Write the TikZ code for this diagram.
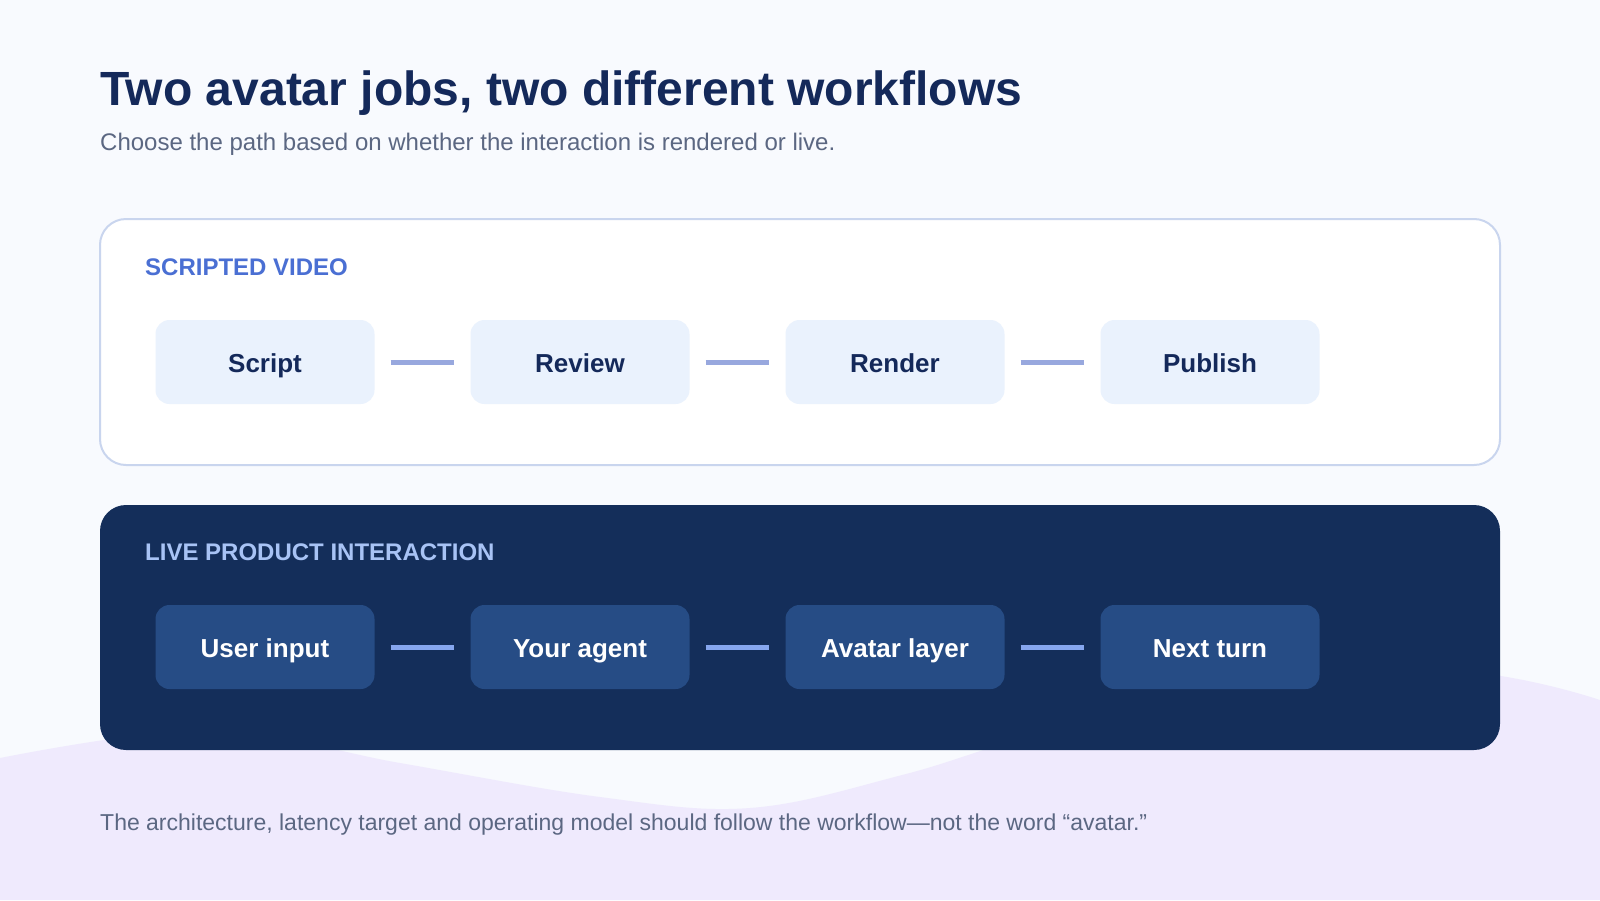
\documentclass[tikz,border=0pt]{standalone}
\usepackage{fontspec}
\setmainfont{Liberation Sans}

\definecolor{paper}{HTML}{F8FAFE}
\definecolor{wave}{HTML}{EFEAFD}
\definecolor{ink}{HTML}{14295A}
\definecolor{inkgray}{HTML}{5B6782}
\definecolor{rim}{HTML}{C9D5EE}
\definecolor{tagblue}{HTML}{4A6FD3}
\definecolor{taglite}{HTML}{A8C3F5}
\definecolor{boxlite}{HTML}{EAF2FD}
\definecolor{boxdeep}{HTML}{264C85}
\definecolor{panel}{HTML}{142E5A}
\definecolor{linelite}{HTML}{98A8DE}
\definecolor{linedeep}{HTML}{86A6EE}

\begin{document}
\begin{tikzpicture}[x=1pt,y=-1pt,
    txt/.style={anchor=base west, inner sep=0pt},
    lite/.style={rounded corners=14pt, fill=boxlite, text=ink,
        minimum width=219pt, minimum height=84pt, inner sep=0pt,
        text height=20pt, text depth=0pt,
        font=\fontsize{26}{30}\selectfont\bfseries},
    deep/.style={lite, fill=boxdeep, text=white},
    linkA/.style={draw=linelite, line width=5pt},
    linkB/.style={draw=linedeep, line width=5pt}]

    \useasboundingbox (0,0) rectangle (1600,900);
    \fill[paper] (0,0) rectangle (1600,900);
    \fill[wave] plot[smooth, tension=0.6] coordinates {(0,758) (210,730) (400,763) (600,797) (750,808) (906,774) (1100,718) (1420,670) (1600,700)}
        -- (1600,900) -- (0,900) -- cycle;

    \node[txt, text=ink, font=\fontsize{48}{56}\selectfont\bfseries] (title) at (100,105) {Two avatar jobs, two different workflows};
    \node[txt, text=inkgray, font=\fontsize{24}{28}\selectfont] (sub) at (100,150) {Choose the path based on whether the interaction is rendered or live.};

    % scripted video
    \draw[draw=rim, line width=2pt, fill=white, rounded corners=26pt] (100,219) rectangle (1500,465);
    \node[txt, text=tagblue, font=\fontsize{24}{28}\selectfont\bfseries] (tagS) at (145,275) {SCRIPTED VIDEO};
    \node[lite] (Sc) at (265,362) {Script};
    \node[lite] (Rv) at (580,362) {Review};
    \node[lite] (Rn) at (895,362) {Render};
    \node[lite] (Pb) at (1210,362) {Publish};
    \draw[linkA] ([xshift=16pt]Sc.east) -- ([xshift=-16pt]Rv.west);
    \draw[linkA] ([xshift=16pt]Rv.east) -- ([xshift=-16pt]Rn.west);
    \draw[linkA] ([xshift=16pt]Rn.east) -- ([xshift=-16pt]Pb.west);

    % live product interaction
    \fill[panel, rounded corners=26pt] (100,505) rectangle (1500,750);
    \node[txt, text=taglite, font=\fontsize{24}{28}\selectfont\bfseries] (tagL) at (145,560) {LIVE PRODUCT INTERACTION};
    \node[deep] (Ui) at (265,647) {User input};
    \node[deep] (Ag) at (580,647) {Your agent};
    \node[deep] (Al) at (895,647) {Avatar layer};
    \node[deep] (Nt) at (1210,647) {Next turn};
    \draw[linkB] ([xshift=16pt]Ui.east) -- ([xshift=-16pt]Ag.west);
    \draw[linkB] ([xshift=16pt]Ag.east) -- ([xshift=-16pt]Al.west);
    \draw[linkB] ([xshift=16pt]Al.east) -- ([xshift=-16pt]Nt.west);

    \node[txt, text=inkgray, font=\fontsize{23}{27}\selectfont] (foot) at (100,830) {The architecture, latency target and operating model should follow the workflow---not the word “avatar.”};
\end{tikzpicture}
\end{document}
